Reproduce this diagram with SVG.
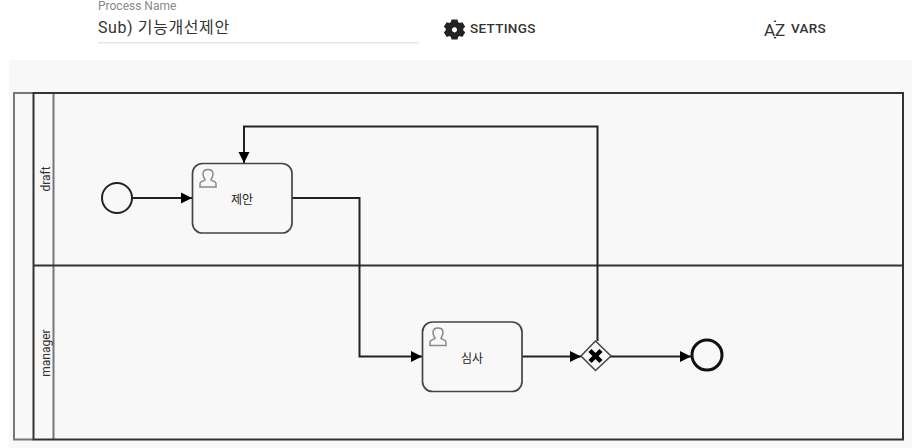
<svg xmlns="http://www.w3.org/2000/svg" width="912" height="448" viewBox="0 0 912 448">
<defs>
<style>
.f{font-family:"Roboto","Noto Sans CJK KR",sans-serif}
.k{font-family:"Noto Sans CJK KR","Roboto",sans-serif}
.lane{fill:none;stroke:#333;stroke-width:2}
.in{fill:none;stroke:#777;stroke-width:2}
.task{fill:#f8f8f8;stroke:#444;stroke-width:1.700}
.ico{fill:none;stroke:#888;stroke-width:1.500}
.c{fill:none;stroke:#222;stroke-width:2}
.t{font-size:12px;fill:#222;text-anchor:middle}
.b{font-size:13.500px;font-weight:500;fill:#333;letter-spacing:.3px}
</style>
<marker id="a" markerUnits="userSpaceOnUse" markerWidth="12" markerHeight="12" refX="11" refY="6" orient="auto"><path d="M0 0.500L11 6L0 11.500Z" fill="#000"/></marker>
</defs>
<rect width="912" height="448" fill="#fff"/>
<rect x="9" y="60" width="903" height="388" fill="#f8f8f8"/>
<g id="header">
<text class="f" x="98" y="10" font-size="12" fill="#888">Process Name</text>
<text class="f" x="98" y="33" font-size="16" fill="#333" letter-spacing=".6">Sub) 기능개선제안</text>
<rect x="98" y="42" width="321" height="1.500" fill="#e8e8e8"/>
<g id="settings">
<path fill="#222" fill-rule="evenodd" d="M451.500 19.500h6l.6 2.600 1.600.9 2.700-.8 2.800 4.600-1.900 1.800v1.900l1.900 1.800-2.800 4.600-2.700-.8-1.600.9-.6 2.600h-6l-.6-2.600-1.600-.9-2.700.8-2.800-4.600 1.900-1.800v-1.900l-1.900-1.800 2.800-4.600 2.700.8 1.600-.9zM454.500 27.200a2.600 2.600 0 1 0 .01 0z"/>
<text class="f b" x="470" y="33">SETTINGS</text>
</g>
<g id="vars">
<text class="f" x="764" y="36" font-size="17" fill="#333">A</text>
<text class="f" x="775" y="36" font-size="17" fill="#333">Z</text>
<path d="M775 20l1.500 2h-3zM775 39l1.500-2h-3z" fill="#333"/>
<text class="f b" x="791" y="33">VARS</text>
</g>
</g>
<g id="pool">
<path class="in" d="M33.500 93H14V439.500H33.500M53.500 93V440"/>
<path class="lane" d="M33.500 93H903V439.500H33.500ZM33.500 265.500H903"/>
</g>
<g id="lane-draft"><text class="f" transform="translate(50 179) rotate(-90)" font-size="12" fill="#333" text-anchor="middle">draft</text></g>
<g id="lane-manager"><text class="f" transform="translate(50 353) rotate(-90)" font-size="12" fill="#333" text-anchor="middle">manager</text></g>
<g id="connectors">
<path class="c" marker-end="url(#a)" d="M132 198H192"/>
<path class="c" marker-end="url(#a)" d="M292 198H359.500V356.500H422"/>
<path class="c" marker-end="url(#a)" d="M522 356.500H581"/>
<path class="c" marker-end="url(#a)" d="M597.500 341V126.500H244V163"/>
<path class="c" marker-end="url(#a)" d="M610 356.500H691"/>
</g>
<g id="start"><circle cx="117" cy="198" r="15" fill="#f8f8f8" stroke="#222" stroke-width="2"/></g>
<g id="task-1">
<rect class="task" x="192.500" y="163.500" width="99.500" height="69.500" rx="10"/>
<path class="ico" d="M200 187v-3.500c0-2 3.500-2.500 5-3.500 0-1.500-2-3-2-6 0-3 2-4.500 5-4.500s5 1.500 5 4.500c0 3-2 4.500-2 6 1.500 1 5 1.500 5 3.500v3.500z"/>
<text class="k t" x="242" y="204">제안</text>
</g>
<g id="task-2">
<rect class="task" x="422.500" y="322" width="99.500" height="69.500" rx="10"/>
<path class="ico" d="M430 345.500v-3.500c0-2 3.500-2.500 5-3.500 0-1.500-2-3-2-6 0-3 2-4.500 5-4.500s5 1.500 5 4.500c0 3-2 4.500-2 6 1.500 1 5 1.500 5 3.500v3.500z"/>
<text class="k t" x="472" y="363">심사</text>
</g>
<g id="gateway">
<path d="M595.500 341L611 356L595.500 370.500L581 356Z" fill="#f8f8f8" stroke="#444" stroke-width="1.500"/>
<path d="M590 350.500L601 361.500M601 350.500L590 361.500" stroke="#000" stroke-width="4.500" fill="none"/>
</g>
<g id="end"><circle cx="707" cy="355" r="15" fill="#f8f8f8" stroke="#111" stroke-width="3"/></g>
</svg>
